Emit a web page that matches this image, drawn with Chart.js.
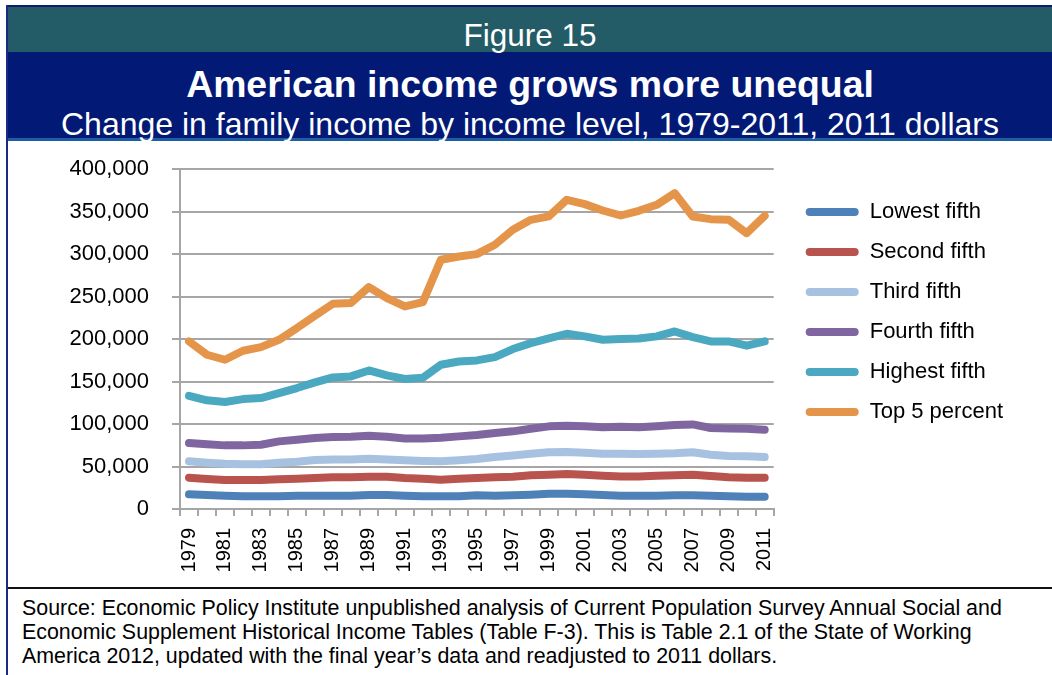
<!DOCTYPE html>
<html>
<head>
<meta charset="utf-8">
<script src="https://cdn.jsdelivr.net/npm/chart.js@4"></script>
<style>
body{margin:0;background:#fff;font-family:"Liberation Sans",Arial,sans-serif;}
#page{position:relative;width:1052px;height:675px;overflow:hidden;background:#fff;}
.bar{position:absolute;}
.txt{position:absolute;left:8px;width:1044px;text-align:center;color:#fff;white-space:nowrap;}
#chartbox{position:absolute;left:0;top:133px;width:1052px;height:454px;}
#source{position:absolute;left:22px;top:596px;width:1025px;font-size:21.4px;line-height:24px;color:#000;white-space:nowrap;}
</style>
</head>
<body>
<div id="page">
  <div class="bar" style="left:6px;top:5px;width:1046px;height:2px;background:#0d1d6e"></div>
  <div class="bar" style="left:6px;top:5px;width:2px;height:670px;background:#1b2a86"></div>
  <div class="bar" style="left:8px;top:7px;width:1044px;height:45px;background:#235b66"></div>
  <div class="bar" style="left:8px;top:52px;width:1044px;height:86px;background:#021a76"></div>
  <div class="bar" style="left:8px;top:138px;width:1044px;height:3px;background:#1e5ea6"></div>
  <div class="bar" style="left:8px;top:587px;width:1044px;height:2px;background:#111"></div>
  <div class="txt" style="top:15px;font-size:31.5px;line-height:40px">Figure 15</div>
  <div class="txt" style="top:63px;font-size:37.4px;line-height:42px;font-weight:bold">American income grows more unequal</div>
  <div class="txt" style="top:105px;font-size:32px;line-height:38px">Change in family income by income level, 1979-2011, 2011 dollars</div>
  <div id="chartbox"><canvas id="c" width="1052" height="454"></canvas></div>
  <div id="source">Source: Economic Policy Institute unpublished analysis of Current Population Survey Annual Social and<br>Economic Supplement Historical Income Tables (Table F-3). This is Table 2.1 of the State of Working<br>America 2012, updated with the final year’s data and readjusted to 2011 dollars.</div>
</div>
<script>
// data (2011 dollars)
const years=['1979','1980','1981','1982','1983','1984','1985','1986','1987','1988','1989','1990','1991','1992','1993','1994','1995',
  '1996','1997','1998','1999','2000','2001','2002','2003','2004','2005','2006','2007','2008','2009','2010','2011'];
const seriesNames=['Lowest fifth','Second fifth','Third fifth','Fourth fifth','Highest fifth','Top 5 percent'];
const seriesColors=['#4f81b9','#b8534e','#a7c1e1','#8066a0','#4aa8c1','#e5954a'];
const lowest=[17300,16500,15700,14900,14900,14900,15700,15700,15700,15700,16500,16500,15700,14900,14900,14900,16100,
  15700,16100,16900,18000,18000,17300,16500,15700,15700,15700,16100,16100,15700,14900,14500,14500];
const second=[36900,35300,34100,34100,34100,34900,35700,36500,37300,37300,38000,38000,36500,35700,34500,35700,36500,
  37300,38000,39600,40400,41200,40400,39200,38400,38400,39200,39600,40400,38800,37300,36900,36900];
const third=[56100,54500,53300,52600,52600,54500,55700,57700,58400,58400,59200,58400,57300,56500,56100,57300,58800,
  61200,63100,65100,66700,67100,66300,65100,65100,64700,65100,65500,66700,63900,62400,62000,61200];
const fourth=[77700,76100,74900,74900,75700,79600,81600,83500,84700,85100,86300,85100,83100,83100,83900,85500,87100,
  89400,91400,94500,97300,98000,97300,96100,96900,96100,97300,98800,99600,95300,94900,94500,93300];
const highest=[133300,127900,125900,129400,130600,136500,142400,149000,154900,156100,163100,157300,153000,154500,169800,173700,174900,
  178800,188300,195300,200800,206300,203200,199200,200000,200800,203200,209000,202400,197300,197300,192200,197300];
const top5=[197300,181600,175700,186300,190600,199200,213000,227500,241600,242400,261200,248300,238400,243600,293400,297300,300000,
  311000,328700,340400,344400,364000,358900,351400,345500,351000,358100,371800,344400,341200,340400,324700,345100];
const yMin=0, yMax=400000, yStep=50000;

const allSeries=[lowest,second,third,fourth,highest,top5];
const FONT='"Liberation Sans", Arial, sans-serif';
const GRID='#a6a6a6';

// nudge the legend a bit to the right of the plot, like the original
const legendShift={id:'legendShift',afterLayout(chart){if(chart.legend){chart.legend.left+=14;chart.legend.right+=14;}}};

new Chart(document.getElementById('c').getContext('2d'),{
  type:'line',
  data:{labels:years,datasets:allSeries.map((d,i)=>({label:seriesNames[i],data:d,
    borderColor:seriesColors[i],backgroundColor:seriesColors[i],borderWidth:8,
    pointRadius:0,tension:0,fill:false,borderJoinStyle:'round',borderCapStyle:'round'}))},
  options:{responsive:false,animation:false,devicePixelRatio:1,
    layout:{padding:{top:0,right:53,bottom:0,left:0}},
    plugins:{
      tooltip:{enabled:false},
      legend:{position:'right',align:'start',
        title:{display:true,text:' ',font:{size:1},padding:{top:48.8,bottom:0}},
        labels:{color:'#000',font:{family:FONT,size:22},boxWidth:53,boxHeight:8,padding:18,
          useBorderRadius:true,borderRadius:4,
          generateLabels(chart){return Chart.defaults.plugins.legend.labels.generateLabels(chart).map(l=>({...l,lineWidth:0}));}}}
    },
    scales:{
      x:{offset:true,
        grid:{offset:true,drawOnChartArea:false,color:GRID,lineWidth:2,tickLength:7},
        border:{color:GRID,width:2},
        ticks:{autoSkip:false,maxRotation:90,minRotation:90,padding:12,color:'#000',font:{family:FONT,size:20},
          callback:(v,i)=>i%2===0?years[i]:''},
        afterFit:s=>{s.height=78;}},
      y:{min:yMin,max:yMax,
        grid:{color:GRID,lineWidth:2,tickLength:8},
        border:{color:GRID,width:2},
        ticks:{stepSize:yStep,padding:23,color:'#000',font:{family:FONT,size:22},
          callback:v=>v.toLocaleString('en-US')},
        afterFit:s=>{s.width=180;}}
    }
  },
  plugins:[legendShift]
});
</script>
</body>
</html>
